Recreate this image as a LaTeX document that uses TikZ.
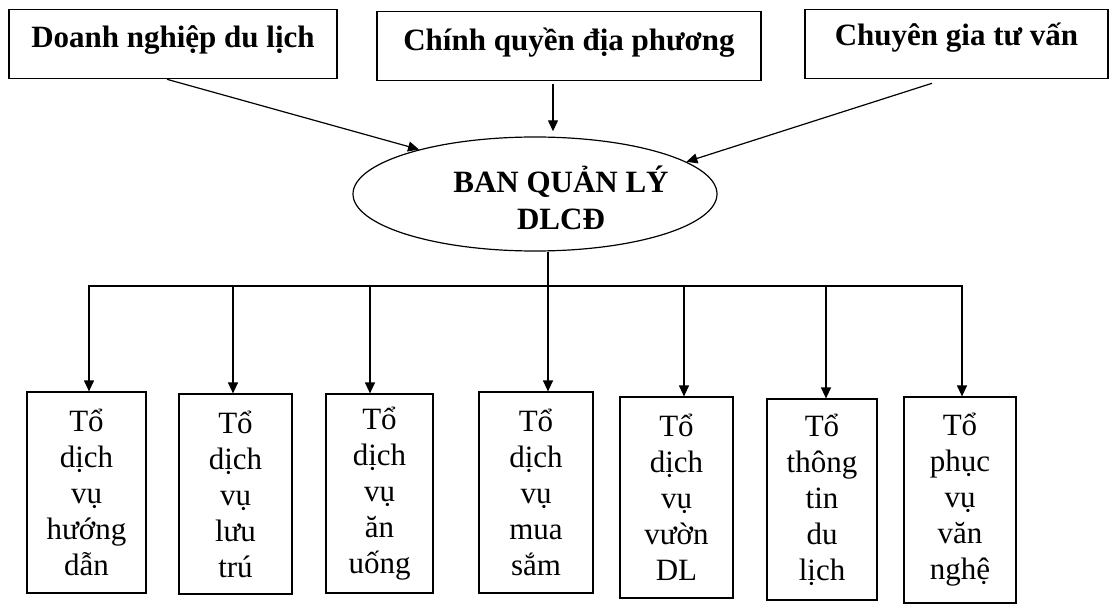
\documentclass[tikz,border=0pt]{standalone}
\usepackage{fontspec}
\setmainfont{Liberation Serif}
\usetikzlibrary{arrows.meta,shapes.geometric}
\begin{document}
\begin{tikzpicture}[x=1pt,y=-1pt,
 topbox/.style={draw,line width=1.3pt,inner sep=0pt,anchor=north,font=\fontsize{31}{36}\selectfont\bfseries},
 unit/.style={draw,line width=1.2pt,inner sep=0pt,align=center,font=\fontsize{31}{36}\selectfont},
 arr/.style={line width=1.2pt,-{Triangle[length=11pt,width=10pt]}},
 link/.style={line width=1.2pt}]
\useasboundingbox (0,0) rectangle (1109,604);
% top boxes
\node[topbox,minimum width=328pt,text height=38pt,text depth=31pt] (b1) at (173,9) {Doanh nghiệp du lịch};
\node[topbox,minimum width=384pt,text height=39pt,text depth=30pt] (b2) at (569,11) {Chính quyền địa phương};
\node[topbox,minimum width=303pt,text height=36pt,text depth=33pt] (b3) at (956.5,9) {Chuyên gia tư vấn};
% ellipse
\node[draw,ellipse,line width=1.2pt,minimum width=364pt,minimum height=114pt,inner sep=0pt] (ell) at (535,194) {};
\node[font=\fontsize{31}{37}\selectfont\bfseries,align=center,inner sep=0pt] (elltext) at (561,198) {BAN QUẢN LÝ\\DLCĐ};
% arrows into ellipse
\draw[arr] ([xshift=-6pt]b1.south) -- (ell.159.5);
\draw[arr] ([xshift=-16pt,yshift=-3pt]b2.south) -- ([xshift=-16pt,yshift=-50pt]b2.south);
\draw[arr] ([xshift=-24.5pt,yshift=-4pt]b3.south) -- (ell.12.5);
% bottom units
\node[unit,minimum width=119pt,minimum height=201pt] (t1) at (86.5,492.5) {Tổ\\dịch\\vụ\\hướng\\dẫn};
\node[unit,minimum width=113pt,minimum height=200pt] (t2) at (235.5,494) {Tổ\\dịch\\vụ\\lưu\\trú};
\node[unit,minimum width=107pt,minimum height=199pt] (t3) at (379.5,493.5) {Tổ\\dịch\\vụ\\ăn\\uống};
\node[unit,minimum width=114pt,minimum height=201pt] (t4) at (536,492.5) {Tổ\\dịch\\vụ\\mua\\sắm};
\node[unit,minimum width=113pt,minimum height=201pt] (t5) at (676.5,497.5) {Tổ\\dịch\\vụ\\vườn\\DL};
\node[unit,minimum width=110pt,minimum height=201pt] (t6) at (822,499.5) {Tổ\\thông\\tin\\du\\lịch};
\node[unit,minimum width=112pt,minimum height=206pt] (t7) at (960,500) {Tổ\\phục\\vụ\\văn\\nghệ};
% bus
\coordinate (j1) at (89,286);
\coordinate (j2) at (233,286);
\coordinate (j3) at (370,286);
\coordinate (jm) at (548,286);
\coordinate (j5) at (684,286);
\coordinate (j6) at (826,286);
\coordinate (j7) at (962,286);
\draw[link] ([xshift=13pt]ell.south) -- (jm);
\draw[arr] (jm) -- (j1) -- (j1 |- t1.north);
\draw[arr] (jm) -- (j7) -- (j7 |- t7.north);
\draw[arr] (j2) -- (j2 |- t2.north);
\draw[arr] (j3) -- (j3 |- t3.north);
\draw[arr] (jm) -- (jm |- t4.north);
\draw[arr] (j5) -- (j5 |- t5.north);
\draw[arr] (j6) -- (j6 |- t6.north);
\end{tikzpicture}
\end{document}
